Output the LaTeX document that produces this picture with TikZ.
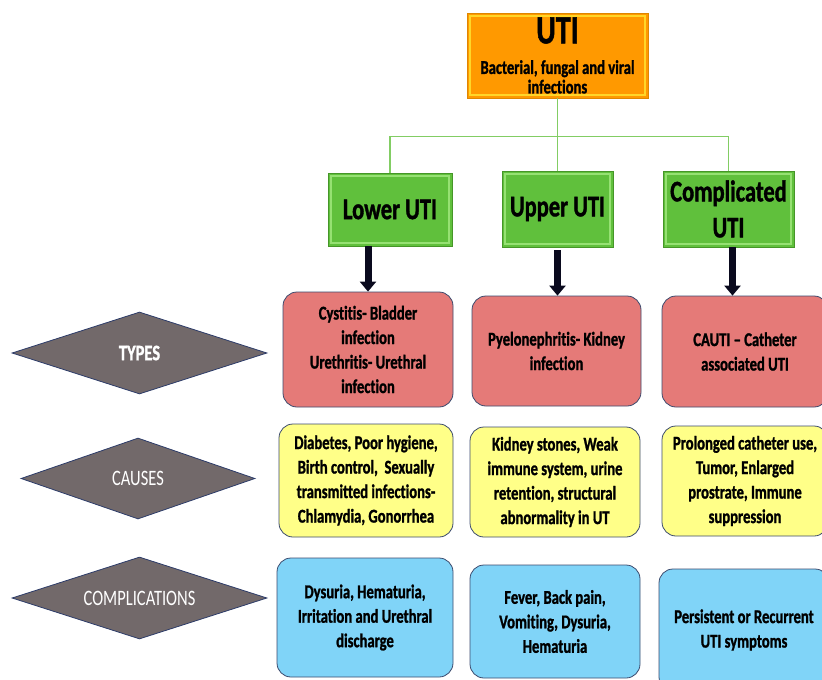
\documentclass[tikz,border=0pt]{standalone}
\usepackage{fontspec}
\setmainfont{Carlito}[FakeStretch=0.75, Ligatures={NoCommon}, BoldFeatures={FakeBold=1.2}]
\usetikzlibrary{shapes.geometric,arrows.meta}
% colours sampled from the chart
\definecolor{utiOrange}{RGB}{255,153,0}
\definecolor{utiOrangeEdge}{RGB}{222,135,0}
\definecolor{utiOrangeGlow}{RGB}{255,214,40}
\definecolor{utiGreen}{RGB}{96,192,60}
\definecolor{utiGreenEdge}{RGB}{70,150,40}
\definecolor{utiGreenGlow}{RGB}{150,225,115}
\definecolor{utiLink}{RGB}{130,205,100}
\definecolor{typePink}{RGB}{229,122,120}
\definecolor{causeYellow}{RGB}{255,255,136}
\definecolor{complBlue}{RGB}{128,212,248}
\definecolor{boxBorder}{RGB}{60,75,110}
\definecolor{rowGray}{RGB}{114,105,106}
\definecolor{rowBorder}{RGB}{45,60,105}
\definecolor{arrowInk}{RGB}{10,10,30}
\tikzset{
  bevel/.style={path picture={
    \draw[#1, line width=2pt]
      ([shift={(3pt,-3pt)}]path picture bounding box.north west) rectangle
      ([shift={(-3pt,3pt)}]path picture bounding box.south east);}},
  rootbox/.style={fill=utiOrange, draw=utiOrangeEdge, line width=0.8pt,
    bevel=utiOrangeGlow, align=center, inner sep=0pt,
    font=\bfseries\fontsize{19.5}{19.5}\selectfont},
  kindbox/.style={fill=utiGreen, draw=utiGreenEdge, line width=0.8pt,
    bevel=utiGreenGlow, align=center, inner sep=0pt,
    font=\bfseries\fontsize{30}{36}\selectfont},
  cellbox/.style={draw=boxBorder, line width=0.8pt, rounded corners=14pt,
    align=center, inner sep=0pt, font=\bfseries\fontsize{19.5}{24.5}\selectfont},
  typebox/.style={cellbox, fill=typePink},
  causebox/.style={cellbox, fill=causeYellow},
  complbox/.style={cellbox, fill=complBlue},
  rowlabel/.style={diamond, aspect=3, inner sep=0pt, fill=rowGray, draw=rowBorder,
    line width=0.8pt, text=white, font=\fontsize{22}{22}\selectfont},
  link/.style={draw=utiLink, line width=1.2pt},
  downarrow/.style={draw=arrowInk, line width=7pt,
    -{Triangle[width=16pt,length=10pt]}}
}
\begin{document}
\begin{tikzpicture}[x=1pt, y=-1pt]
\useasboundingbox (0,0) rectangle (822,680);
\clip (0,0) rectangle (822,680);
% Root
\node[rootbox, minimum width=181pt, minimum height=85pt] (uti) at (557.5,55.5)
  {{\fontsize{40}{40}\selectfont UTI}\\[11pt]Bacterial, fungal and viral\\infections};
% Kinds of UTI
\node[kindbox, minimum width=124pt, minimum height=73pt] (lower) at (390,209.5) {Lower UTI};
\node[kindbox, minimum width=111pt, minimum height=76pt] (upper) at (557.5,209) {Upper UTI};
\node[kindbox, minimum width=131pt, minimum height=76pt] (compl) at (728.5,209) {Complicated\\UTI};
% Row labels
\node[rowlabel, minimum width=255pt, minimum height=82pt] (types) at (139.5,353) {\bfseries TYPES};
\node[rowlabel, minimum width=234pt, minimum height=81pt] (causes) at (138,478.5) {CAUSES};
\node[rowlabel, minimum width=255pt, minimum height=82pt] (complications) at (139.5,598) {COMPLICATIONS};
% Types row
\node[typebox, minimum width=170pt, minimum height=115pt] (lowerT) at (368,349.5)
  {Cystitis- Bladder\\infection\\Urethritis- Urethral\\infection};
\node[typebox, minimum width=169pt, minimum height=110pt] (upperT) at (556.5,351)
  {Pyelonephritis- Kidney\\infection};
\node[typebox, minimum width=166pt, minimum height=111pt] (complT) at (745,351.5)
  {CAUTI \textendash{} Catheter\\associated UTI};
% Causes row
\node[causebox, minimum width=174pt, minimum height=113pt] (lowerC) at (366,480.5)
  {Diabetes, Poor hygiene,\\Birth control,~ Sexually\\transmitted infections-\\Chlamydia, Gonorrhea};
\node[causebox, minimum width=170pt, minimum height=110pt] (upperC) at (555,482)
  {Kidney stones, Weak\\immune system, urine\\retention, structural\\abnormality in UT};
\node[causebox, minimum width=166pt, minimum height=110pt] (complC) at (745,481)
  {Prolonged catheter use,\\Tumor, Enlarged\\prostrate, Immune\\suppression};
% Complications row
\node[complbox, minimum width=176pt, minimum height=119pt] (lowerX) at (365,617.5)
  {Dysuria, Hematuria,\\Irritation and Urethral\\discharge};
\node[complbox, minimum width=170pt, minimum height=113pt] (upperX) at (555,621.5)
  {Fever, Back pain,\\Vomiting, Dysuria,\\Hematuria};
\node[complbox, minimum width=170pt, minimum height=122pt] (complX) at (744,630)
  {Persistent or Recurrent\\UTI symptoms};
% Tree links
\draw[link] (uti.south) -- ++(0,38) coordinate (hub);
\draw[link] (lower.north) |- (hub) -| (compl.north);
\draw[link] (hub) -- (upper.north);
% Arrows down to the types
\draw[downarrow] (lowerT.north |- lower.south) -- (lowerT.north);
\draw[downarrow] ([yshift=-3pt]upper.south) -- (upper.south |- upperT.north);
\draw[downarrow] ([xshift=4pt]compl.south) -- ([xshift=4pt]compl.south |- complT.north);
\end{tikzpicture}
\end{document}
